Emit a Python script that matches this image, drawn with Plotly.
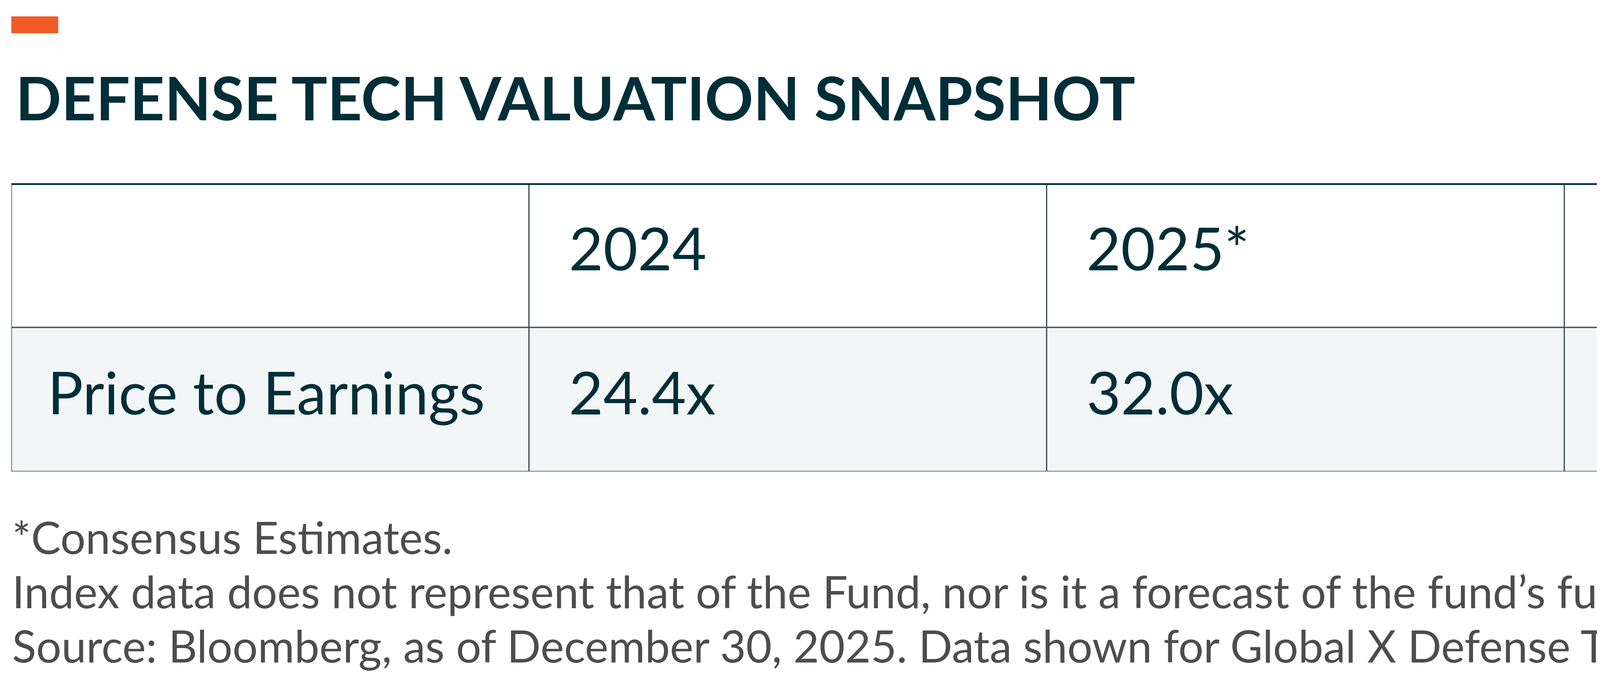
import plotly.graph_objects as go

title = "DEFENSE TECH VALUATION SNAPSHOT"
years = ["2024", "2025*", "2026*", "2027*"]
row_label = "Price to Earnings"
pe_values = ["24.4x", "32.0x", "26.2x", "22.8x"]
footnotes = [
    "*Consensus Estimates.",
    "Index data does not represent that of the Fund, nor is it a forecast of the fund’s future results.",
    "Source: Bloomberg, as of December 30, 2025. Data shown for Global X Defense Tech Index (GXSHLDN).",
]

W, H = 6668, 1751
L, R, T, B = 21, 6647, 461, 1199
DARK = "#012e38"
GRID = "#3b4b52"

def py(ypix):
    return (B - ypix) / (B - T)

def px(xpix):
    return (xpix - L) / (R - L)

fig = go.Figure()
ncol = len(years) + 1
shapes = []
for r in range(2):
    for c in range(ncol):
        shapes.append(dict(type="rect", xref="x", yref="y", x0=c, x1=c + 1, y0=r, y1=r + 1,
                           fillcolor="#f2f6f7" if r == 0 else "white",
                           line=dict(color=GRID, width=3), layer="below"))
shapes.append(dict(type="line", xref="x", yref="y", x0=0, x1=ncol, y0=2, y1=2,
                   line=dict(color=DARK, width=9)))
shapes.append(dict(type="rect", xref="paper", yref="paper", x0=px(21), x1=px(141),
                   y0=py(77), y1=py(34), fillcolor="#f15a24", line=dict(width=0)))

pad = 0.077
fig.add_trace(go.Scatter(x=[c + pad for c in range(1, ncol)], y=[1.5] * len(years), text=years,
                         mode="text", textposition="middle right", hoverinfo="skip",
                         textfont=dict(family="Lato", size=152, color=DARK)))
fig.add_trace(go.Scatter(x=[0.07] + [c + pad for c in range(1, ncol)], y=[0.5] * ncol,
                         text=[row_label] + pe_values, mode="text", textposition="middle right",
                         hoverinfo="skip", textfont=dict(family="Lato", size=152, color=DARK)))

ann = [dict(text="<b>" + title + "</b>", x=px(30), y=py(240), xref="paper", yref="paper",
            xanchor="left", yanchor="middle", showarrow=False,
            font=dict(family="Lato", size=154, color=DARK))]
for i, f in enumerate(footnotes):
    ann.append(dict(text=f, x=px(21), y=py(1365 + i * 139), xref="paper", yref="paper",
                    xanchor="left", yanchor="middle", showarrow=False,
                    font=dict(family="Lato", size=114, color="#4d4d4d")))

fig.update_layout(width=W, height=H, margin=dict(l=L, r=W - R, t=T, b=H - B),
                  paper_bgcolor="white", plot_bgcolor="white", showlegend=False,
                  xaxis=dict(range=[0, ncol], visible=False, fixedrange=True),
                  yaxis=dict(range=[0, 2], visible=False, fixedrange=True),
                  shapes=shapes, annotations=ann)
fig.write_html("out.html")
